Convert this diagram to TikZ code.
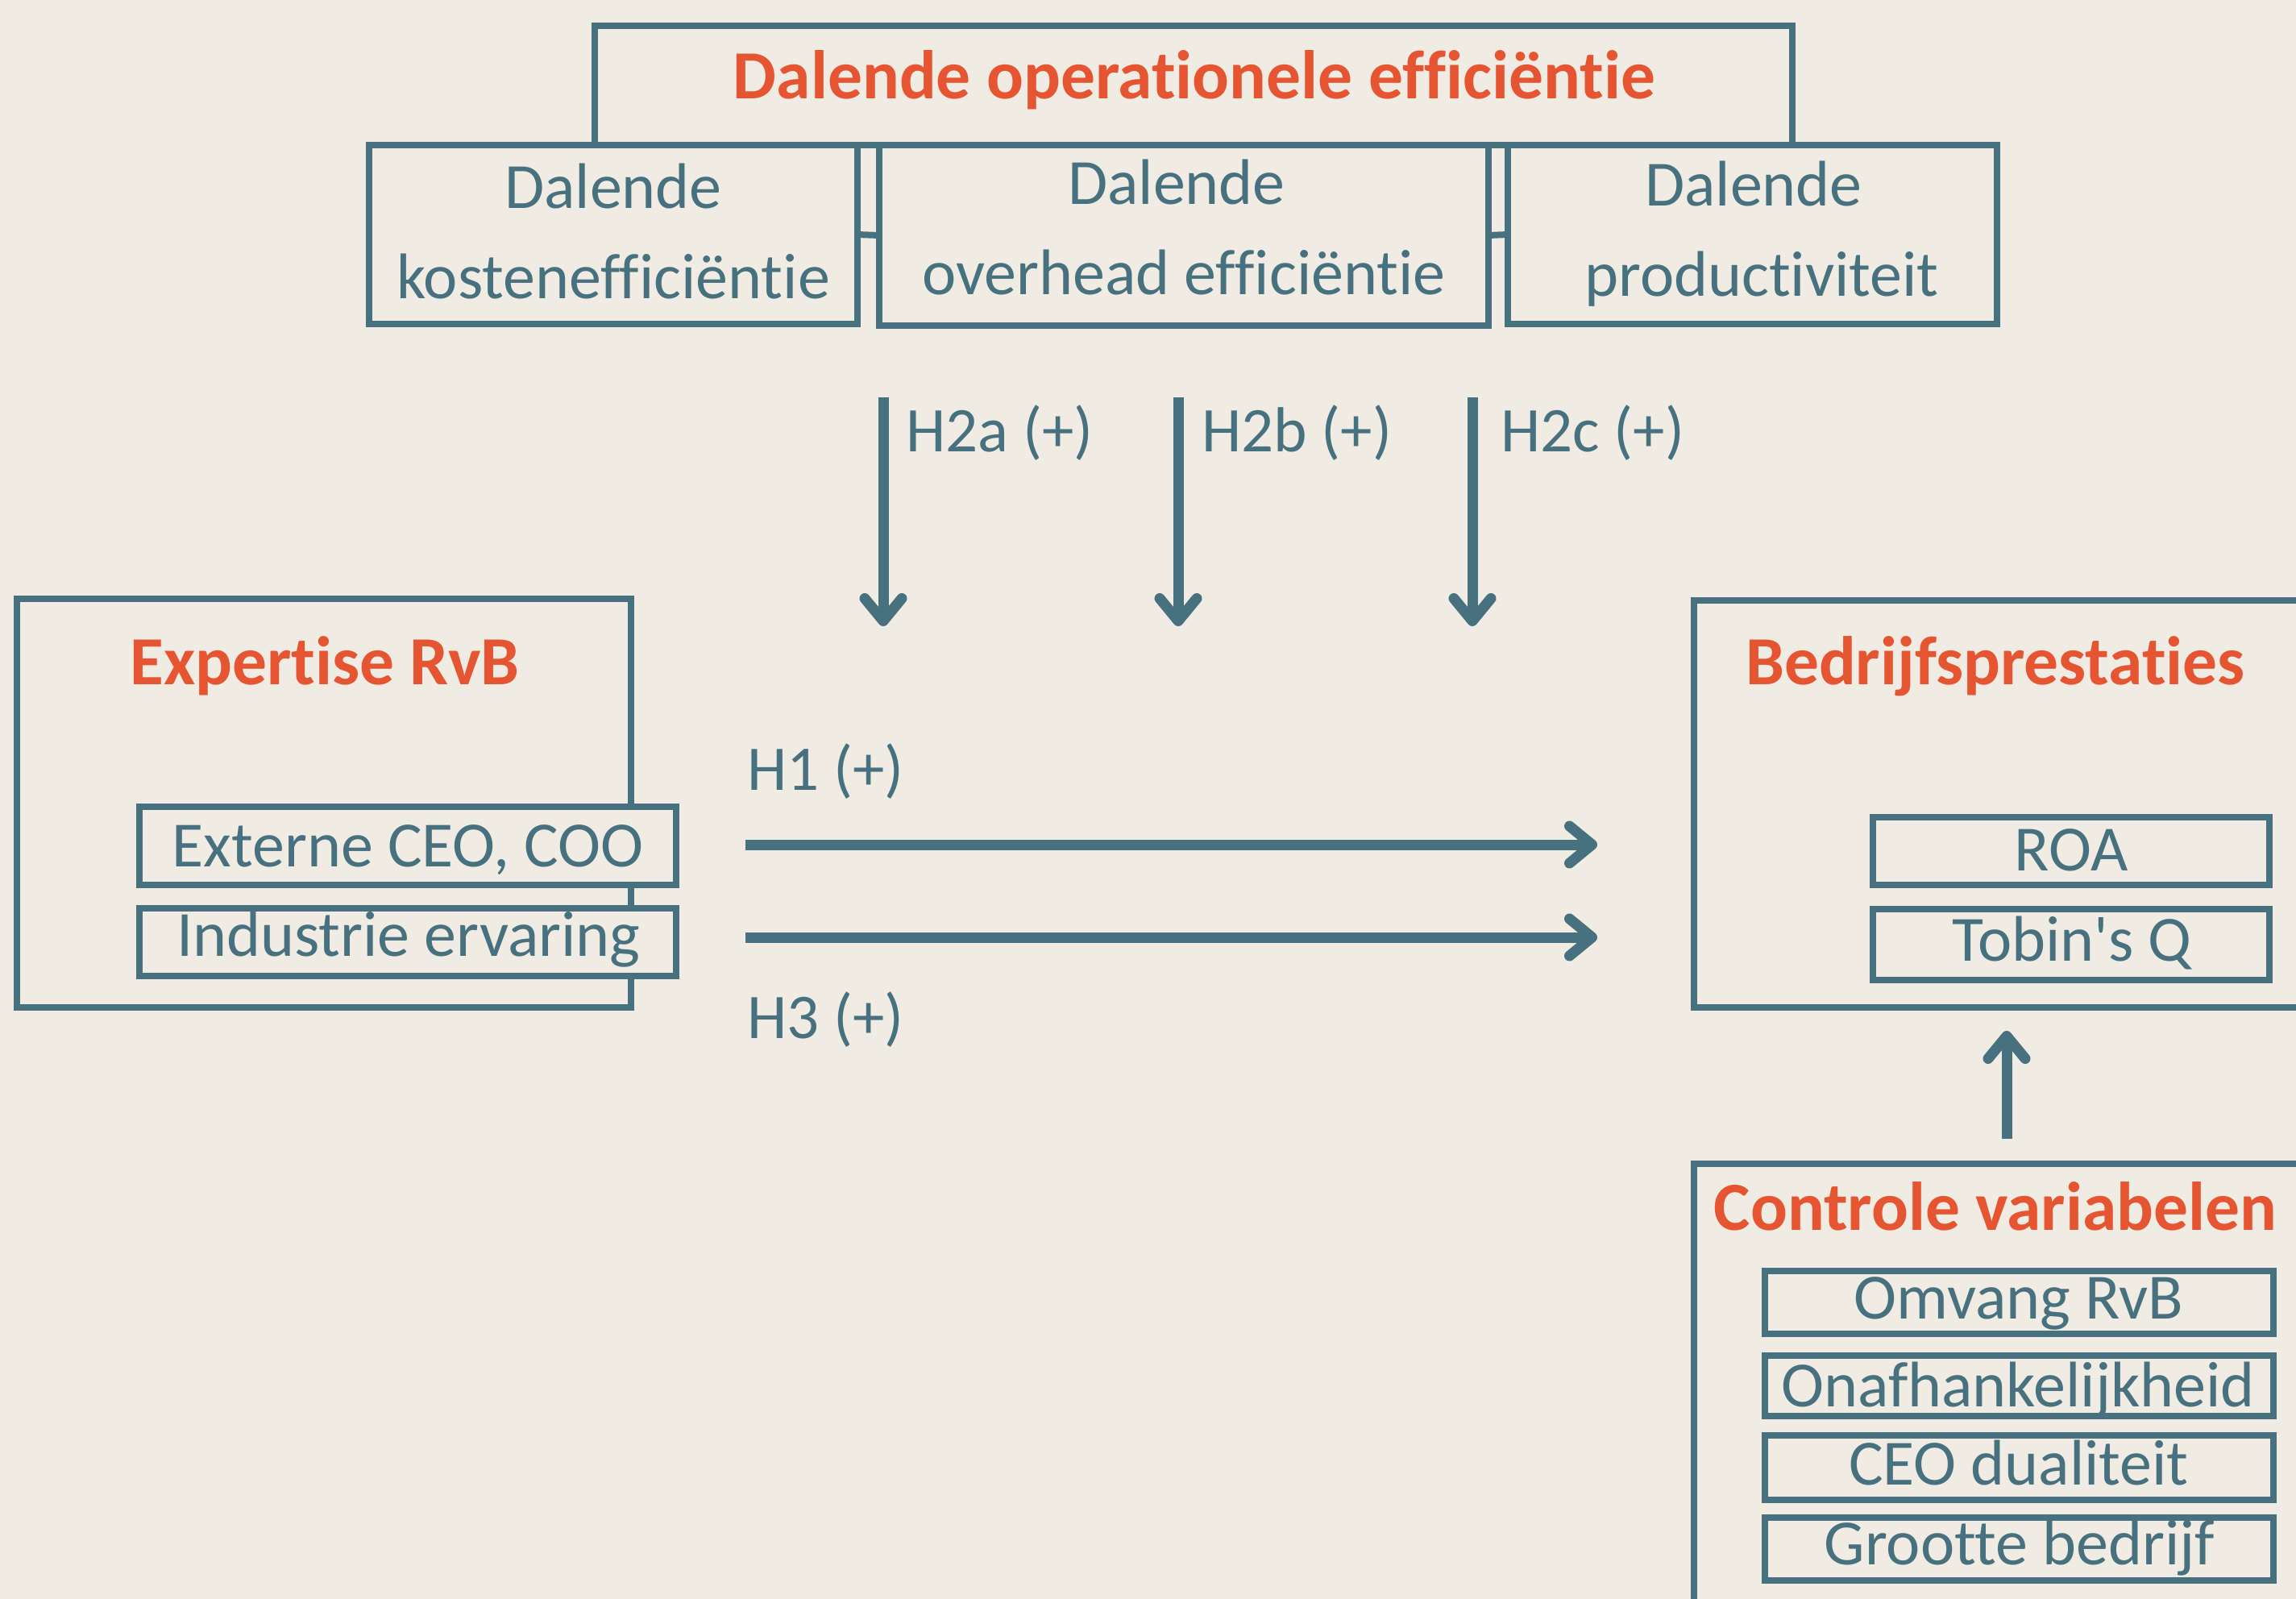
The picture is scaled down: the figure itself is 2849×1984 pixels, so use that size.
\documentclass[tikz,border=0pt]{standalone}
\usepackage{fontspec}
\setmainfont{Carlito}[Ligatures={NoCommon,TeXOff}]
\usetikzlibrary{arrows.meta}
\definecolor{bgc}{HTML}{F0EBE3}
\definecolor{linec}{HTML}{48717F}
\definecolor{orng}{HTML}{E65532}
\tikzset{
 box/.style={draw=linec, line width=8pt, fill=bgc, inner sep=0pt, outer sep=0pt},
 txt/.style={text=linec, font=\fontsize{80}{90}\selectfont, anchor=base, inner sep=0pt},
 lbl/.style={text=linec, font=\fontsize{79}{90}\selectfont, anchor=base west, inner sep=0pt},
 ttl/.style={text=orng, font=\bfseries\fontsize{85.5}{90}\selectfont, anchor=base, inner sep=0pt},
 arr/.style={draw=linec, line width=13pt, -{Straight Barb[length=28pt,width=46pt,round]}},
 link/.style={draw=linec, line width=8pt},
}
\begin{document}
\begin{tikzpicture}[x=1pt,y=-1pt]
\clip (0,0) rectangle (2849,1984);
\fill[bgc] (0,0) rectangle (2849,1984);
% top group
\node[box, minimum width=1486pt, minimum height=148pt] (top) at (1481,106) {};
\node[box, minimum width=606pt, minimum height=222pt] (b1) at (761,291) {};
\node[box, minimum width=756pt, minimum height=224pt] (b2) at (1469,292) {};
\node[box, minimum width=607pt, minimum height=222pt] (b3) at (2174.5,291) {};
\draw[link] (b1.east) -- (b2.west);
\draw[link] (b2.east) -- (b3.west);
\node[ttl] (ttop) at (1482,122) {Dalende operationele efficiëntie};
\node[txt] (t1a) at (761,258) {Dalende};
\node[txt] (t1b) at (761,370) {kostenefficiëntie};
\node[txt] (t2a) at (1460,253) {Dalende};
\node[txt] (t2b) at (1469,365) {overhead efficiëntie};
\node[txt] (t3a) at (2176,255) {Dalende};
\node[txt] (t3b) at (2186,367) {productiviteit};
% H2 arrows
\coordinate (a1s) at (1096,493); \coordinate (a1e) at (1096,777);
\coordinate (a2s) at (1462,493); \coordinate (a2e) at (1462,777);
\coordinate (a3s) at (1827,493); \coordinate (a3e) at (1827,777);
\draw[arr] (a1s) -- (a1e);
\draw[arr] (a2s) -- (a2e);
\draw[arr] (a3s) -- (a3e);
\node[lbl] (h2a) at (1124,560) {H2a (+)};
\node[lbl] (h2b) at (1491,560) {H2b (+)};
\node[lbl] (h2c) at (1862,560) {H2c (+)};
% left group
\node[box, minimum width=762pt, minimum height=507pt] (left) at (402,996.5) {};
\node[box, minimum width=666pt, minimum height=97pt] (ext) at (506,1049.5) {};
\node[box, minimum width=666pt, minimum height=84pt] (ind) at (506,1169) {};
\node[ttl] (tleft) at (403,849) {Expertise RvB};
\node[txt] (text) at (506,1075) {Externe CEO, COO};
\node[txt] (tind) at (507,1186) {Industrie ervaring};
% horizontal arrows
\coordinate (h1s) at (925,1048); \coordinate (h1e) at (1982,1048);
\coordinate (h3s) at (925,1163); \coordinate (h3e) at (1982,1163);
\draw[arr] (h1s) -- (h1e);
\draw[arr] (h3s) -- (h3e);
\node[lbl] (lh1) at (927,980) {H1 (+)};
\node[lbl] (lh3) at (927,1288) {H3 (+)};
% right group
\node[box, minimum width=778pt, minimum height=505pt] (perf) at (2491,997.5) {};
\node[box, minimum width=492pt, minimum height=84pt] (roa) at (2570,1056) {};
\node[box, minimum width=492pt, minimum height=88pt] (tob) at (2570,1172) {};
\node[ttl] (tperf) at (2476,849) {Bedrijfsprestaties};
\node[txt] (troa) at (2570,1080) {ROA};
\node[txt] (ttob) at (2571,1192) {Tobin's Q};
% control group
\node[box, minimum width=778pt, minimum height=576pt] (ctrl) at (2491,1732) {};
\node[box, minimum width=631pt, minimum height=78pt] (c1) at (2505.5,1616) {};
\node[box, minimum width=631pt, minimum height=75pt] (c2) at (2505.5,1719.5) {};
\node[box, minimum width=631pt, minimum height=80pt] (c3) at (2505.5,1821) {};
\node[box, minimum width=631pt, minimum height=78pt] (c4) at (2505.5,1922) {};
\node[ttl] (tctrl) at (2476,1526) {Controle variabelen};
\node[txt] (tc1) at (2505,1636) {Omvang RvB};
\node[txt] (tc2) at (2504,1745) {Onafhankelijkheid};
\node[txt] (tc3) at (2505,1842) {CEO dualiteit};
\node[txt] (tc4) at (2506,1941) {Grootte bedrijf};
\coordinate (us) at (2490,1413); \coordinate (ue) at (2490,1279);
\draw[arr] (us) -- (ue);
\end{tikzpicture}
\end{document}
